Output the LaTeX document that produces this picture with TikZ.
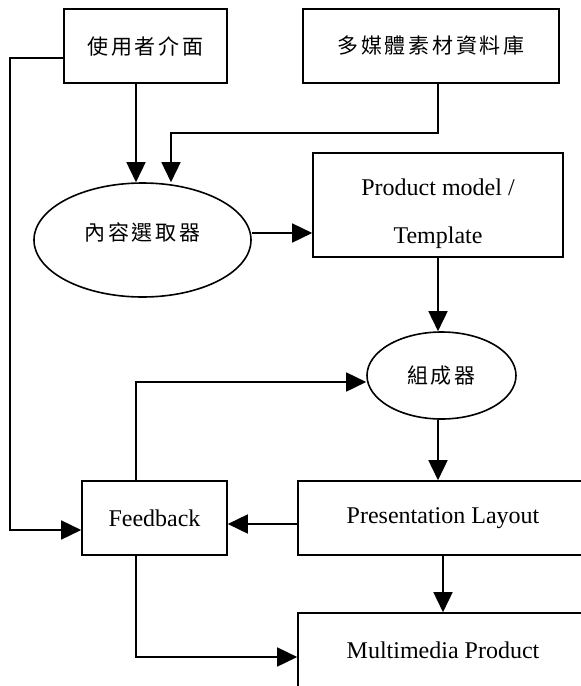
\documentclass[tikz,border=0pt]{standalone}
\usepackage{fontspec}
\setmainfont{Liberation Serif}
\newfontfamily\cjk[LetterSpace=13]{Noto Sans CJK TC}
\usetikzlibrary{arrows.meta,shapes.geometric}

\begin{document}
\begin{tikzpicture}[x=1pt,y=-1pt,
  box/.style={draw,line width=1.6pt,inner sep=0pt,font=\fontsize{24}{28}\selectfont},
  oval/.style={box,ellipse},
  zh/.style={font=\cjk\fontsize{21}{24}\selectfont},
  link/.style={line width=1.6pt,-{Triangle[length=20pt,width=19pt]}},
]
\useasboundingbox (0,0) rectangle (581,686);
\clip (0,0) rectangle (581,686);
\node[box,zh,minimum width=163pt,minimum height=74pt] (ui) at (145.5,46) {使用者介面};
\node[box,zh,minimum width=256pt,minimum height=74pt] (db) at (431,46) {多媒體素材資料庫};
\node[oval,zh,minimum width=217pt,minimum height=114pt,text height=10pt,text depth=10pt] (sel) at (142.5,240) {內容選取器};
\node[box,minimum width=250pt,minimum height=104pt,align=center,font=\fontsize{24}{48}\selectfont]
  (tpl) at (438,205) {\rule{0pt}{35pt}Product model /\\Template};
\node[oval,zh,minimum width=149pt,minimum height=87pt] (comp) at (441.5,375.5) {組成器};
\node[box,minimum width=145pt,minimum height=74pt] (fb) at (154.5,518) {Feedback};
\node[box,minimum width=290pt,minimum height=74pt] (pl) at (443,518) {Presentation Layout};
\node[box,minimum width=290pt,minimum height=74pt] (mm) at (443,650) {Multimedia Product};
\coordinate (dbturn) at (171,133);

\draw[link] ([xshift=-9.5pt]ui.south) -- ([xshift=-9.5pt]ui.south |- sel.north);
\draw[link] ([xshift=7pt]db.south) |- (dbturn) -- (dbturn |- sel.north);
\draw[link] ([yshift=7pt]sel.east) -- ([yshift=7pt]sel.east -| tpl.west);
\draw[link] (tpl.south) -- (tpl.south |- comp.north);
\draw[link] ([xshift=-3.5pt]comp.south) -- ([xshift=-3.5pt]comp.south |- pl.north);
\draw[link] ([xshift=-18.5pt]fb.north) |- ([yshift=-6.5pt]comp.west);
\draw[link] ([yshift=-12pt]ui.west) -- ++(-53,0) |- ([yshift=-12pt]fb.west);
\draw[link] ([yshift=-6pt]pl.west) -- ([yshift=-6pt]fb.east);
\draw[link] (pl.south) -- (mm.north);
\draw[link] ([xshift=-18.5pt]fb.south) |- ([yshift=-7pt]mm.west);
\end{tikzpicture}
\end{document}
